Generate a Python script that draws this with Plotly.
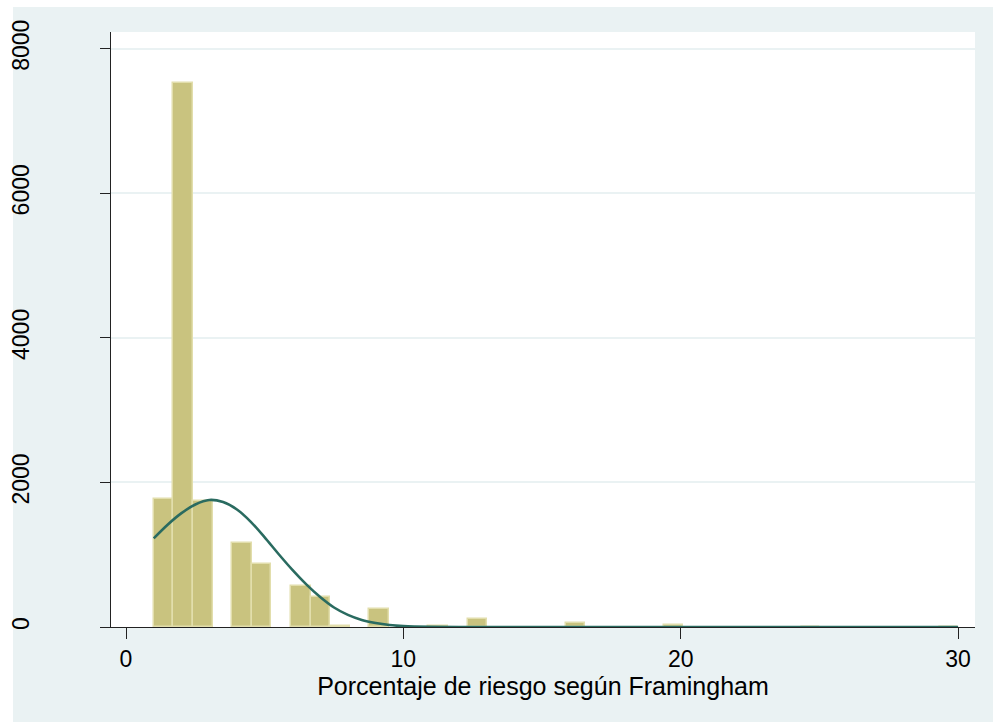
import plotly.graph_objects as go

# Histogram bins (centres), counts and bin width
bin_centers = [1.35, 2.06, 2.77, 4.18, 4.89, 6.30, 7.01, 7.72, 9.13,
               11.25, 12.67, 16.20, 19.74, 24.68, 29.65]
bin_counts = [1770, 7530, 1750, 1158, 871, 567, 419, 16, 245,
              10, 116, 51, 25, 5, 5]
bin_width = 0.707

# Normal density overlay
curve_x = [1.0, 1.5, 2.0, 2.5, 3.0, 3.5, 4.0, 4.5, 5.0, 5.5, 6.0, 6.5,
           7.0, 7.5, 8.0, 8.5, 9.0, 9.5, 10.0, 11.0, 12.0, 20.0, 30.0]
curve_y = [1227, 1415, 1575, 1695, 1757, 1728, 1625, 1455, 1240, 1010, 790, 590,
           415, 270, 168, 98, 55, 27, 12, 2, 0, 0, 0]

x_ticks = [0, 10, 20, 30]
y_ticks = [0, 2000, 4000, 6000, 8000]
x_title = "Porcentaje de riesgo según Framingham"

W, H = 993, 722
L, R, T, B = 111, 18, 32, 95
pw, ph = W - L - R, H - T - B

FONT = "Liberation Sans, Arial, Helvetica, sans-serif"
BG = "#EAF2F3"

fig = go.Figure()
fig.add_trace(go.Bar(
    x=bin_centers, y=bin_counts, width=[bin_width] * len(bin_centers),
    marker=dict(color="#C9C37F", line=dict(color="#E2DEAC", width=1.5)),
    showlegend=False, hoverinfo="x+y",
))
fig.add_trace(go.Scatter(
    x=curve_x, y=curve_y, mode="lines",
    line=dict(color="#2A6B60", width=2.6, shape="spline", smoothing=0.8),
    showlegend=False,
))

# outer light-blue region and white plot region
fig.add_shape(type="rect", xref="paper", yref="paper", layer="below",
              x0=(13 - L) / pw, x1=(W + 5 - L) / pw,
              y0=(T + ph - (H + 5)) / ph, y1=(T + ph - 7) / ph,
              fillcolor=BG, line=dict(width=0))
fig.add_shape(type="rect", xref="paper", yref="paper", layer="below",
              x0=0, x1=1, y0=0, y1=1,
              fillcolor="white", line=dict(width=0))

fig.update_layout(
    width=W, height=H,
    margin=dict(l=L, r=R, t=T, b=B, pad=0, autoexpand=False),
    paper_bgcolor="white", plot_bgcolor="white",
    font=dict(family=FONT, size=23, color="black"),
    bargap=0,
    xaxis=dict(
        range=[-0.541, 30.61], tickvals=x_ticks, ticktext=[str(v) for v in x_ticks],
        ticks="outside", ticklen=11, tickwidth=1.3, tickcolor="#222",
        showline=True, linecolor="#222", linewidth=1.3,
        showgrid=False, zeroline=False, automargin=False,
        tickfont=dict(family=FONT, size=23, color="black"),
        title=dict(text=x_title, font=dict(family=FONT, size=25, color="black"), standoff=0),
    ),
    yaxis=dict(
        range=[0, 8231], tickvals=y_ticks, ticktext=[str(v) for v in y_ticks],
        ticks="outside", ticklen=10, tickwidth=1.3, tickcolor="#222",
        showline=True, linecolor="#222", linewidth=1.3,
        showgrid=True, gridcolor=BG, gridwidth=1.5, zeroline=False,
        automargin=False,
        tickangle=-90, ticklabelstandoff=62,
        tickfont=dict(family=FONT, size=23, color="black"),
    ),
)

fig.write_html(
    "out.html",
    config={"displayModeBar": False},
    post_script="document.body.style.margin='0';document.body.style.overflow='hidden';",
)
